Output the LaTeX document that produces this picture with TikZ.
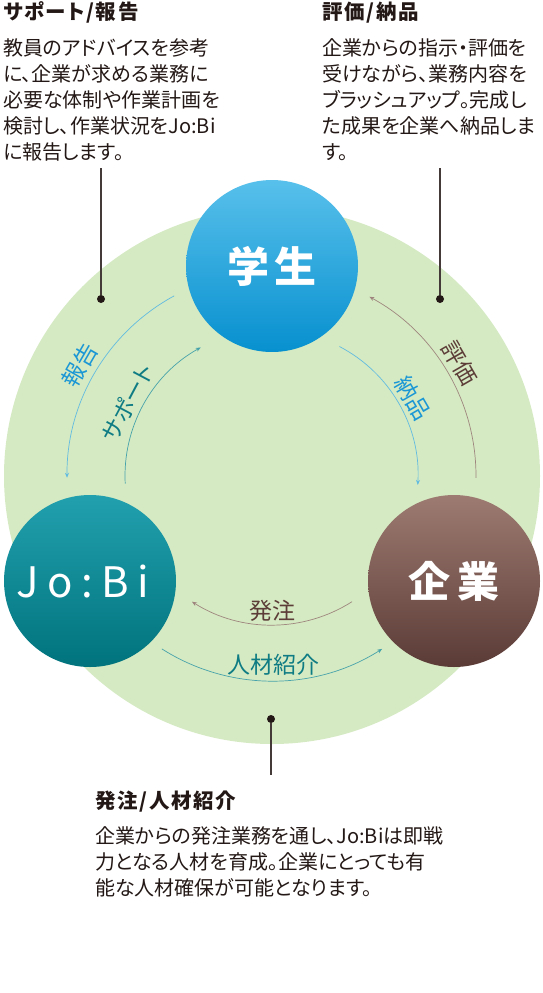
\documentclass[tikz,border=0pt]{standalone}
\usepackage{fontspec}
\setmainfont{Noto Sans CJK JP}[RawFeature=+palt]
\newfontfamily\headfont{Noto Sans CJK JP}[RawFeature=+palt, LetterSpace=8]
\newfontfamily\logofont{Noto Sans CJK JP}[LetterSpace=20]
\usetikzlibrary{arrows.meta}

\definecolor{hubgreen}{HTML}{D5EAC3}
\definecolor{stuTop}{HTML}{58C0EB}
\definecolor{stuBot}{HTML}{0790CF}
\definecolor{jobTop}{HTML}{22A0AE}
\definecolor{jobBot}{HTML}{00737D}
\definecolor{corTop}{HTML}{9D7B72}
\definecolor{corBot}{HTML}{5B3B36}
\definecolor{inkdark}{HTML}{231815}
\definecolor{bluetxt}{HTML}{1B97D5}
\definecolor{blueline}{HTML}{62BBE0}
\definecolor{tealtxt}{HTML}{0F7C84}
\definecolor{tealline}{HTML}{47A3AA}
\definecolor{browntxt}{HTML}{5C3D37}
\definecolor{brownline}{HTML}{9E867E}

\begin{document}
\begin{tikzpicture}[x=1pt, y=1pt,
  party/.style={circle, minimum size=172pt, inner sep=0pt, text=white},
  flow/.style={line width=0.7pt, -{Stealth[length=5pt, width=4pt]}},
  tag/.style={inner sep=0pt, font=\fontsize{23}{23}\selectfont},
  pin/.style={circle, fill=inkdark, inner sep=0pt, minimum size=8pt},
  lead/.style={draw=inkdark!85, line width=1.1pt},
  head/.style={anchor=base west, inner sep=0pt, text=inkdark, font=\headfont\bfseries\fontsize{20.5}{20.5}\selectfont},
  body/.style={anchor=north west, inner sep=0pt, align=left, text=inkdark, font=\fontsize{20}{26}\selectfont}]

\useasboundingbox (0,0) rectangle (543,-993);
\coordinate (hub) at (272,-476);
\fill[hubgreen] (hub) circle (268);

% the three parties
\node[party, top color=stuTop, bottom color=stuBot, font=\bfseries\fontsize{42}{42}\selectfont] (student) at (272,-266) {学\kern6pt 生};
\node[party, top color=jobTop, bottom color=jobBot, font=\logofont\fontsize{42}{42}\selectfont] (jobi) at (90,-581) {Jo:Bi\kern14pt};
\node[party, top color=corTop, bottom color=corBot, font=\bfseries\fontsize{42}{42}\selectfont] (company) at (454,-581) {企\kern7pt 業};

% flows between them
\coordinate (rep0) at ([shift={(hub)}]118.5:205);
\draw[flow, blueline] (rep0) arc[start angle=118.5, end angle=180.5, radius=205];
\coordinate (sup0) at ([shift={(hub)}]183:147);
\draw[flow, tealline] (sup0) arc[start angle=183, end angle=119, radius=147];
\coordinate (del0) at ([shift={(hub)}]62.5:146);
\draw[flow, blueline] (del0) arc[start angle=62.5, end angle=-3.5, radius=146];
\coordinate (eva0) at ([shift={(hub)}]-0.5:204);
\draw[flow, brownline] (eva0) arc[start angle=-0.5, end angle=61.5, radius=204];
\coordinate (ord0) at ([shift={(hub)}]-57.5:149);
\draw[flow, brownline] (ord0) arc[start angle=-57.5, end angle=-122.5, radius=149];
\coordinate (hr0) at ([shift={(hub)}]-122.5:205);
\draw[flow, tealline] (hr0) arc[start angle=-122.5, end angle=-57.5, radius=205];

\node[tag, text=bluetxt, rotate=60] (replab) at ([shift={(hub)}]150:222) {報告};
\node[tag, text=tealtxt, rotate=62] (suplab) at ([shift={(hub)}]153:162) {サポート};
\node[tag, text=bluetxt, rotate=-60] (dellab) at ([shift={(hub)}]29:161) {納品};
\node[tag, text=browntxt, rotate=-60] (evalab) at ([shift={(hub)}]31:219) {評価};
\node[tag, text=browntxt] (ordlab) at ([shift={(hub)}]270:135) {発注};
\node[tag, text=tealtxt] (hrlab) at ([shift={(hub)}]270.5:189) {人材紹介};

% leaders
\node[pin] (pinL) at (101,-299) {};
\coordinate (endL) at (101,-168);
\draw[lead] (endL) -- (pinL);
\node[pin] (pinR) at (440,-299) {};
\coordinate (endR) at (440,-168);
\draw[lead] (endR) -- (pinR);
\node[pin] (pinB) at (271,-719) {};
\coordinate (endB) at (271,-775);
\draw[lead] (pinB) -- (endB);

% notes
\node[head] (suphead) at (3,-19.5) {サポート/報告};
\node[body] (supnote) at (3,-38.5) {教員のアドバイスを参考\\に、企業が求める業務に\\必要な体制や作業計画を\\検討し、作業状況をJo:Bi\\に報告します。};
\node[head] (evahead) at (322,-19.5) {評価/納品};
\node[body] (evanote) at (322,-38.5) {企業からの指示・評価を\\受けながら、業務内容を\\ブラッシュアップ。完成し\\た成果を企業へ納品しま\\す。};
\node[head] (ordhead) at (95,-808.5) {発注/人材紹介};
\node[body] (ordnote) at (95,-826) {企業からの発注業務を通し、Jo:Biは即戦\\力となる人材を育成。企業にとっても有\\能な人材確保が可能となります。};
\end{tikzpicture}
\end{document}
